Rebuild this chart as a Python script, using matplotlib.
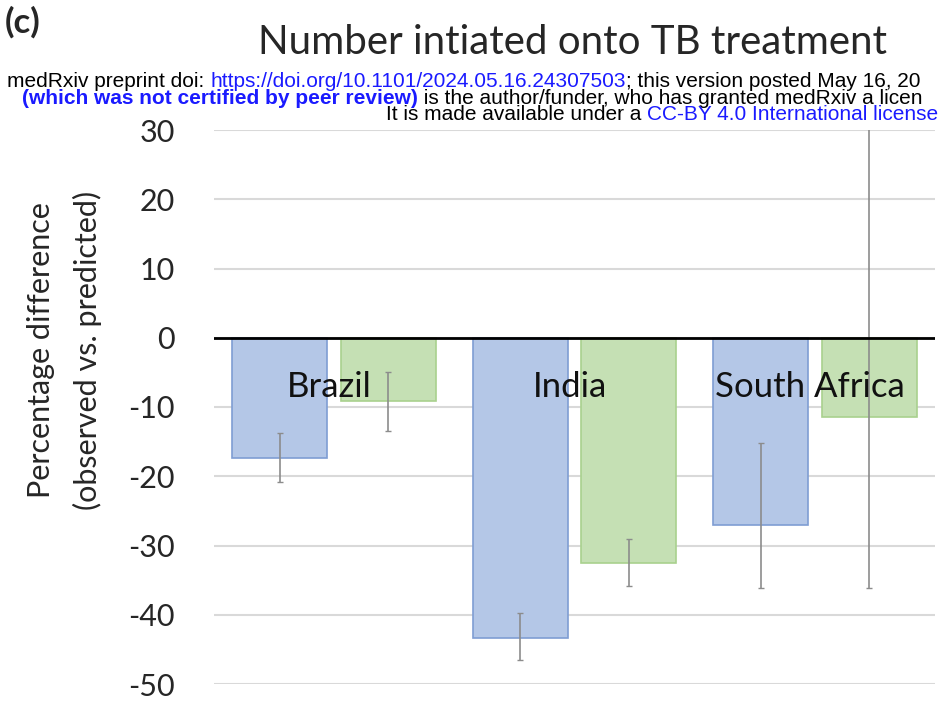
import matplotlib
matplotlib.use('Agg')
import matplotlib.pyplot as plt
import numpy as np

# values (percentage difference, observed vs. predicted)
countries = ['Brazil', 'India', 'South Africa']
blue_vals = [-17.3, -43.3, -27.0]
blue_low = [-20.8, -46.5, -36.1]
blue_high = [-13.7, -39.7, -15.2]
green_vals = [-9.2, -32.5, -11.5]
green_low = [-13.4, -35.8, -36.1]
green_high = [-4.9, -29.1, 30.5]
yticks = [30, 20, 10, 0, -10, -20, -30, -40, -50]

chart_font = 'Lato'
head_font = 'Liberation Sans'
link_blue = '#1a1aff'
hsize = 15.0

fig = plt.figure(figsize=(9.4, 7.11), dpi=100)
ax = fig.add_axes([214/940, 1 - 684/711, 721/940, 554/711])

x = np.arange(len(countries))
w = 0.396
off = 0.226

blue_err = [np.array(blue_vals) - np.array(blue_low), np.array(blue_high) - np.array(blue_vals)]
green_err = [np.array(green_vals) - np.array(green_low), np.array(green_high) - np.array(green_vals)]

ax.bar(x - off, blue_vals, width=w, color='#b4c7e7', edgecolor='#7f9dd3', linewidth=1.2, zorder=2)
ax.bar(x + off, green_vals, width=w, color='#c5e0b4', edgecolor='#a9d18e', linewidth=1.2, zorder=2)
ax.errorbar(x - off, blue_vals, yerr=blue_err, fmt='none', ecolor='#8c8c8c', elinewidth=1.2,
            capsize=2.5, capthick=1, zorder=3)
ax.errorbar(x + off, green_vals, yerr=green_err, fmt='none', ecolor='#8c8c8c', elinewidth=1.2,
            capsize=2.5, capthick=1, zorder=3)

ax.axhline(0, color='black', linewidth=2, zorder=4)

for i, name in enumerate(countries):
    ax.text(i - 0.02, -7.1, name, ha='center', va='center', fontsize=25, family=chart_font,
            color='#111111', zorder=5)

ax.set_xlim(-0.5, 2.5)
ax.set_ylim(-50, 30)
ax.set_yticks(yticks)
ax.set_yticklabels([str(t) for t in yticks], fontsize=22, family=chart_font, color='#262626')
ax.set_xticks([])
ax.tick_params(axis='y', length=0, pad=28)
ax.grid(axis='y', color='#d9d9d9', linewidth=1.5, zorder=0)
ax.set_axisbelow(True)
for s in ax.spines.values():
    s.set_visible(False)

ax.set_ylabel('Percentage difference\n(observed vs. predicted)', fontsize=22, family=chart_font,
              color='#262626', linespacing=1.75)
ax.yaxis.set_label_coords((102 - 214) / 721, (684 - 350) / 554)

fig.text(5/940, 1 - 22/711, '(c)', fontsize=25, family=chart_font, weight='bold',
         va='center', ha='left', color='#262626')
fig.text(572/940, 1 - 42/711, 'Number intiated onto TB treatment', fontsize=29, family=chart_font,
         va='center', ha='center', color='#262626')

# medRxiv header lines
t1 = fig.text(7/940, 1 - 91/711, 'medRxiv preprint doi: ', fontsize=hsize, family=head_font,
              va='bottom', ha='left')
t2 = ax.annotate('https://doi.org/10.1101/2024.05.16.24307503', xy=(1, 0), xycoords=t1,
                 va='bottom', ha='left', fontsize=hsize, family=head_font, color=link_blue,
                 annotation_clip=False)
ax.annotate('; this version posted May 16, 20', xy=(1, 0), xycoords=t2, va='bottom', ha='left',
            fontsize=hsize, family=head_font, annotation_clip=False)

t4 = fig.text(22/940, 1 - 107.5/711, '(which was not certified by peer review)', fontsize=hsize,
              family=head_font, weight='bold', color=link_blue, va='bottom', ha='left')
ax.annotate(' is the author/funder, who has granted medRxiv a licen', xy=(1, 0), xycoords=t4,
            va='bottom', ha='left', fontsize=hsize, family=head_font, annotation_clip=False)

t6 = fig.text(938/940, 1 - 124/711, 'CC-BY 4.0 International license', fontsize=hsize,
              family=head_font, color=link_blue, va='bottom', ha='right')
ax.annotate('It is made available under a ', xy=(0, 0), xycoords=t6, va='bottom', ha='right',
            fontsize=hsize, family=head_font, annotation_clip=False)

fig.savefig('out.png', dpi=100)
